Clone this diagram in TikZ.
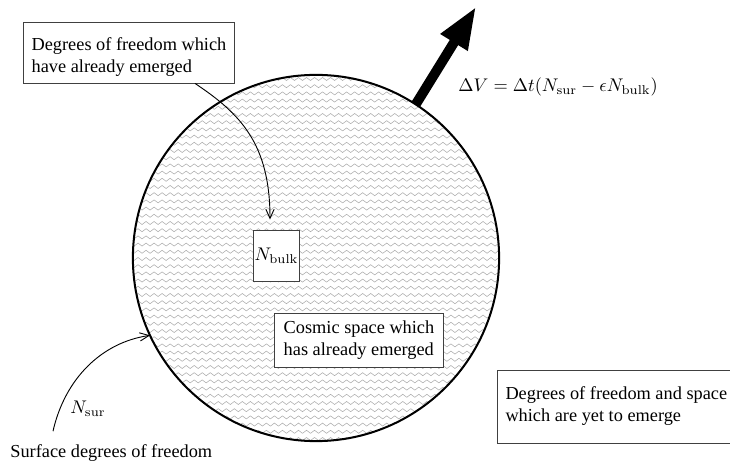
\documentclass[tikz,border=0pt]{standalone}
\usepackage[no-math]{fontspec}
\setmainfont{Liberation Serif}
\usetikzlibrary{arrows.meta, positioning, calc, decorations.pathmorphing}

\begin{document}
\begin{tikzpicture}[
        x=0.0192cm,
        y=0.0192cm,
        textbox/.style={draw=black!75,fill=white,line width=0.5pt,align=left,inner xsep=4.4pt},
        wave/.style={gray!65,line width=0.3pt,decorate,decoration={zigzag,segment length=0.154cm,amplitude=0.029cm}},
        thin arrow/.style={-{Straight Barb[length=5pt,width=4.5pt]},line width=0.5pt}
    ]
        \useasboundingbox (0,0) rectangle (730,464);
        \begin{scope}
            \clip (316,206) circle (183);
            \foreach \yy in {25,32.2,...,390}
                \draw[wave] (128,\yy) -- (505,\yy);
        \end{scope}
        \node[circle,draw,line width=1.1pt,minimum size=7.03cm,inner sep=0pt,outer sep=0pt] (space) at (316,206) {};
        \node[textbox,minimum width=4.03cm,minimum height=1.17cm,text height=24pt] (have) at (129,411.5) {Degrees of freedom which\\have already emerged};
        \node[textbox,minimum width=0.9cm,minimum height=0.98cm,inner sep=0pt] (bulk) at (276.5,208.5) {$N_{\rm bulk}$};
        \node[textbox,minimum width=3.26cm,minimum height=1.02cm] (cosmic) at (359,123.5) {Cosmic space which\\has already emerged};
        \node[textbox,anchor=west,minimum height=1.4cm] (yet) at (497,57.5) {Degrees of freedom and space\\which are yet to emerge};
        \node[anchor=west,inner sep=0pt] (surf) at (10,11) {Surface degrees of freedom};
        \node[anchor=west] (dv) at (452,377) {$\Delta V = \Delta t(N_{\rm sur} - \epsilon N_{\rm bulk})$};
        \coordinate (tip) at ($(space.center)+(57.5:298)$);
        \draw[line width=5.4pt,-{Triangle[length=23pt,width=16pt]}] (space.57.5) -- (tip);
        \draw[thin arrow] ($(have.south)+(66,0)$) .. controls +(45,-30) and +(0,76) .. ($(bulk.north)+(-6.5,10)$);
        \draw[thin arrow] ($(surf.north west)+(43,13)$) .. controls +(12,53) and +(-48,-7) .. (space.205.5)
            node[pos=0.15,right=2pt] (nsur) {$N_{\rm sur}$};
\end{tikzpicture}
\end{document}
